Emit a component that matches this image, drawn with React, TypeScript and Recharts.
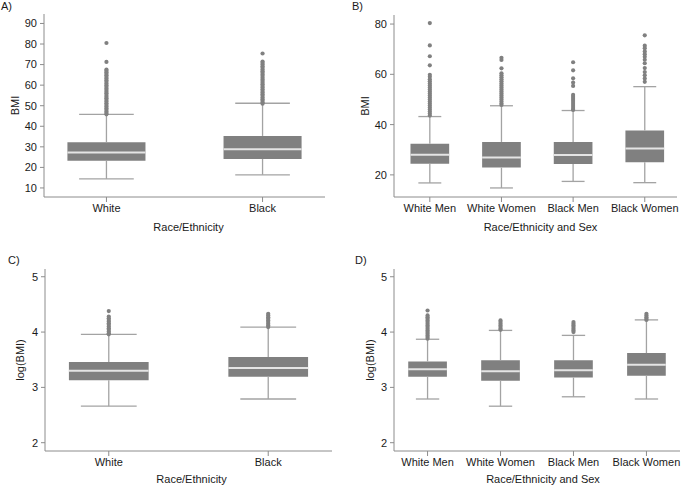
import React from "react"
import {
  ReferenceArea,
  ReferenceLine,
  Scatter,
  ScatterChart,
  XAxis,
  YAxis,
} from "recharts"

// Panel A: BMI by race/ethnicity
const catsA = ["White", "Black"]
const lowA = [14.4, 16.4]
const q1A = [23.2, 24.1]
const medA = [27.2, 28.8]
const q3A = [32.2, 35.3]
const highA = [45.8, 51.2]
const outWhiteA = [80.5, 71.3, 67.6, 67, 66.3, 65.5, 64.8, 64, 63.2, 62.4, 61.6, 60.8, 60, 59.2, 58.4, 57.6, 56.8, 56, 55.2, 54.4, 53.6, 52.8, 52, 51.2, 50.4, 49.6, 48.8, 48, 47.2, 46.4, 45.8]
const outBlackA = [75.4, 71.5, 70.8, 70, 69.2, 68.4, 67.6, 66.8, 66, 65.2, 64.4, 63.6, 62.8, 62, 61.2, 60.4, 59.6, 58.8, 58, 57.2, 56.4, 55.6, 54.8, 54, 53.2, 52.4, 51.6, 51]
const ticksA = [10, 20, 30, 40, 50, 60, 70, 80, 90]

// Panel B: BMI by race/ethnicity and sex
const catsB = ["White Men", "White Women", "Black Men", "Black Women"]
const lowB = [16.8, 14.8, 17.4, 16.9]
const q1B = [24.4, 22.9, 24.3, 25]
const medB = [28, 26.9, 27.9, 30.5]
const q3B = [32.4, 33.1, 33.1, 37.7]
const highB = [43.2, 47.5, 45.6, 55.1]
const outWMB = [80.4, 71.5, 67.2, 63.6, 59.8, 59, 58, 57.2, 56.4, 55.6, 54.8, 54, 53.2, 52.4, 51.6, 50.8, 50, 49.2, 48.4, 47.6, 46.8, 46, 45.2, 44.4, 43.6]
const outWWB = [66.6, 65.7, 62.4, 60.4, 59.6, 58.8, 58, 57.2, 56.4, 55.6, 54.8, 54, 53.2, 52.4, 51.6, 50.8, 50, 49.2, 48.4, 47.8]
const outBMB = [64.8, 61.6, 58.4, 56.7, 55.4, 51.8, 51, 50.2, 49.4, 48.6, 47.8, 47, 46.2, 45.8]
const outBWB = [75.5, 71.4, 70.4, 69.1, 68, 67, 65.8, 64.4, 62.5, 60.9, 59.6, 58.3, 57]
const ticksB = [20, 40, 60, 80]

// Panel C: log(BMI) by race/ethnicity
const lowC = [2.66, 2.79]
const q1C = [3.13, 3.19]
const medC = [3.3, 3.35]
const q3C = [3.46, 3.55]
const highC = [3.96, 4.09]
const outWhiteC = [4.38, 4.28, 4.25, 4.22, 4.19, 4.16, 4.13, 4.1, 4.07, 4.04, 4.01, 3.98, 3.96]
const outBlackC = [4.33, 4.3, 4.27, 4.24, 4.21, 4.18, 4.15, 4.12, 4.09]
const ticksLog = [2, 3, 4, 5]

// Panel D: log(BMI) by race/ethnicity and sex
const lowD = [2.79, 2.66, 2.83, 2.79]
const q1D = [3.19, 3.12, 3.18, 3.21]
const medD = [3.33, 3.29, 3.31, 3.41]
const q3D = [3.47, 3.49, 3.49, 3.62]
const highD = [3.87, 4.03, 3.94, 4.22]
const outWMD = [4.39, 4.3, 4.27, 4.24, 4.21, 4.18, 4.15, 4.12, 4.09, 4.06, 4.03, 4.0, 3.97, 3.94, 3.91, 3.88]
const outWWD = [4.21, 4.18, 4.15, 4.12, 4.09, 4.06, 4.04]
const outBMD = [4.18, 4.15, 4.12, 4.09, 4.06, 4.03, 4.0]
const outBWD = [4.33, 4.3, 4.27, 4.24, 4.22]

const BOX = "#808080"
const WHISKER = "#a3a3a3"
const AXIS = "#8c8c8c"
const TEXT = "#1a1a1a"

type PanelProps = {
  tag: string
  left: number
  top: number
  width: number
  height: number
  margin: { top: number; right: number; bottom: number; left: number }
  yWidth: number
  xHeight: number
  cats: string[]
  low: number[]
  q1: number[]
  med: number[]
  q3: number[]
  high: number[]
  outs: number[][]
  xDomain: [number, number]
  yDomain: [number, number]
  yTicks: number[]
  boxW: number
  capW: number
  xTitle: string
  yTitle: string
  yTitleX: number
  xTitleDx: number
  xTitleDy: number
  tagX: number
  tagY: number
}

function BoxPanel(p: PanelProps) {
  const points = p.outs.flatMap((vals, i) => vals.map((v) => ({ x: i + 1, y: v })))
  return (
    <div style={{ position: "absolute", left: p.left, top: p.top }}>
      <div
        style={{
          position: "absolute",
          left: p.tagX,
          top: p.tagY,
          fontSize: 11,
          lineHeight: "12px",
          color: TEXT,
        }}
      >
        {p.tag}
      </div>
      <ScatterChart width={p.width} height={p.height} margin={p.margin}>
        <XAxis
          type="number"
          dataKey="x"
          domain={p.xDomain}
          ticks={p.cats.map((_, i) => i + 1)}
          tickFormatter={(v) => p.cats[v - 1] ?? ""}
          interval={0}
          height={p.xHeight}
          stroke={AXIS}
          tick={{ fill: TEXT, fontSize: 11 }}
          tickSize={5}
          tickMargin={2}
          allowDataOverflow
          label={{
            content: (lp: any) => {
              const vb = lp.viewBox || {}
              return (
                <text
                  x={vb.x + vb.width / 2 + p.xTitleDx}
                  y={vb.y + p.xTitleDy}
                  textAnchor="middle"
                  dominantBaseline="central"
                  fill={TEXT}
                  fontSize={11}
                >
                  {p.xTitle}
                </text>
              )
            },
          }}
        />
        <YAxis
          type="number"
          dataKey="y"
          domain={p.yDomain}
          ticks={p.yTicks}
          width={p.yWidth}
          stroke={AXIS}
          tick={{ fill: TEXT, fontSize: 11 }}
          tickSize={4}
          tickMargin={3}
          allowDataOverflow
          label={{
            content: (lp: any) => {
              const vb = lp.viewBox || {}
              const cy = vb.y + vb.height / 2
              return (
                <text
                  x={p.yTitleX}
                  y={cy}
                  transform={`rotate(-90, ${p.yTitleX}, ${cy})`}
                  textAnchor="middle"
                  dominantBaseline="central"
                  fill={TEXT}
                  fontSize={11}
                >
                  {p.yTitle}
                </text>
              )
            },
          }}
        />
        {p.cats.map((c, i) => (
          <ReferenceArea
            key={`box-${c}`}
            x1={i + 1 - p.boxW / 2}
            x2={i + 1 + p.boxW / 2}
            y1={p.q1[i]}
            y2={p.q3[i]}
            fill={BOX}
            fillOpacity={1}
            stroke="none"
          />
        ))}
        {p.cats.map((c, i) => (
          <ReferenceLine
            key={`wl-${c}`}
            segment={[{ x: i + 1, y: p.low[i] }, { x: i + 1, y: p.q1[i] }]}
            stroke={WHISKER}
            strokeWidth={1.3}
          />
        ))}
        {p.cats.map((c, i) => (
          <ReferenceLine
            key={`wh-${c}`}
            segment={[{ x: i + 1, y: p.q3[i] }, { x: i + 1, y: p.high[i] }]}
            stroke={WHISKER}
            strokeWidth={1.3}
          />
        ))}
        {p.cats.map((c, i) => (
          <ReferenceLine
            key={`cl-${c}`}
            segment={[{ x: i + 1 - p.capW / 2, y: p.low[i] }, { x: i + 1 + p.capW / 2, y: p.low[i] }]}
            stroke={WHISKER}
            strokeWidth={1.3}
          />
        ))}
        {p.cats.map((c, i) => (
          <ReferenceLine
            key={`ch-${c}`}
            segment={[{ x: i + 1 - p.capW / 2, y: p.high[i] }, { x: i + 1 + p.capW / 2, y: p.high[i] }]}
            stroke={WHISKER}
            strokeWidth={1.3}
          />
        ))}
        {p.cats.map((c, i) => (
          <ReferenceLine
            key={`md-${c}`}
            segment={[{ x: i + 1 - p.boxW / 2, y: p.med[i] }, { x: i + 1 + p.boxW / 2, y: p.med[i] }]}
            stroke="#e4e4e4"
            strokeWidth={2}
          />
        ))}
        <Scatter
          data={points}
          isAnimationActive={false}
          shape={(sp: any) => <circle cx={sp.cx} cy={sp.cy} r={2.1} fill={BOX} />}
        />
      </ScatterChart>
    </div>
  )
}

export default function App() {
  return (
    <div
      style={{
        position: "absolute",
        left: 0,
        top: 0,
        width: 682,
        height: 485,
        background: "#fff",
        fontFamily: "'Liberation Sans', Arial, sans-serif",
        overflow: "hidden",
      }}
    >
      <BoxPanel
        tag="A)"
        left={0}
        top={0}
        width={340}
        height={245}
        margin={{ top: 14, right: 15, bottom: 0, left: 0 }}
        yWidth={44}
        xHeight={48}
        cats={catsA}
        low={lowA}
        q1={q1A}
        med={medA}
        q3={q3A}
        high={highA}
        outs={[outWhiteA, outBlackA]}
        xDomain={[0.6, 2.4]}
        yDomain={[5.6, 94.6]}
        yTicks={ticksA}
        boxW={0.5}
        capW={0.35}
        xTitle="Race/Ethnicity"
        yTitle="BMI"
        yTitleX={15}
        xTitleDx={4}
        xTitleDy={29.5}
        tagX={1}
        tagY={0}
      />
      <BoxPanel
        tag="B)"
        left={340}
        top={0}
        width={342}
        height={245}
        margin={{ top: 15, right: 5, bottom: 0, left: 0 }}
        yWidth={54}
        xHeight={48}
        cats={catsB}
        low={lowB}
        q1={q1B}
        med={medB}
        q3={q3B}
        high={highB}
        outs={[outWMB, outWWB, outBMB, outBWB]}
        xDomain={[0.5, 4.45]}
        yDomain={[11.2, 83.6]}
        yTicks={ticksB}
        boxW={0.54}
        capW={0.32}
        xTitle="Race/Ethnicity and Sex"
        yTitle="BMI"
        yTitleX={25}
        xTitleDx={5}
        xTitleDy={29.5}
        tagX={12}
        tagY={0}
      />
      <BoxPanel
        tag="C)"
        left={0}
        top={245}
        width={340}
        height={240}
        margin={{ top: 24, right: 8, bottom: 0, left: 0 }}
        yWidth={45}
        xHeight={34}
        cats={catsA}
        low={lowC}
        q1={q1C}
        med={medC}
        q3={q3C}
        high={highC}
        outs={[outWhiteC, outBlackC]}
        xDomain={[0.6, 2.4]}
        yDomain={[1.85, 5.14]}
        yTicks={ticksLog}
        boxW={0.5}
        capW={0.35}
        xTitle="Race/Ethnicity"
        yTitle="log(BMI)"
        yTitleX={20}
        xTitleDx={3}
        xTitleDy={27.5}
        tagX={8}
        tagY={9}
      />
      <BoxPanel
        tag="D)"
        left={340}
        top={245}
        width={342}
        height={240}
        margin={{ top: 24, right: 2, bottom: 0, left: 0 }}
        yWidth={54}
        xHeight={34}
        cats={catsB}
        low={lowD}
        q1={q1D}
        med={medD}
        q3={q3D}
        high={highD}
        outs={[outWMD, outWWD, outBMD, outBWD]}
        xDomain={[0.54, 4.46]}
        yDomain={[1.85, 5.14]}
        yTicks={ticksLog}
        boxW={0.53}
        capW={0.32}
        xTitle="Race/Ethnicity and Sex"
        yTitle="log(BMI)"
        yTitleX={30}
        xTitleDx={6}
        xTitleDy={27.5}
        tagX={15}
        tagY={9}
      />
    </div>
  )
}
